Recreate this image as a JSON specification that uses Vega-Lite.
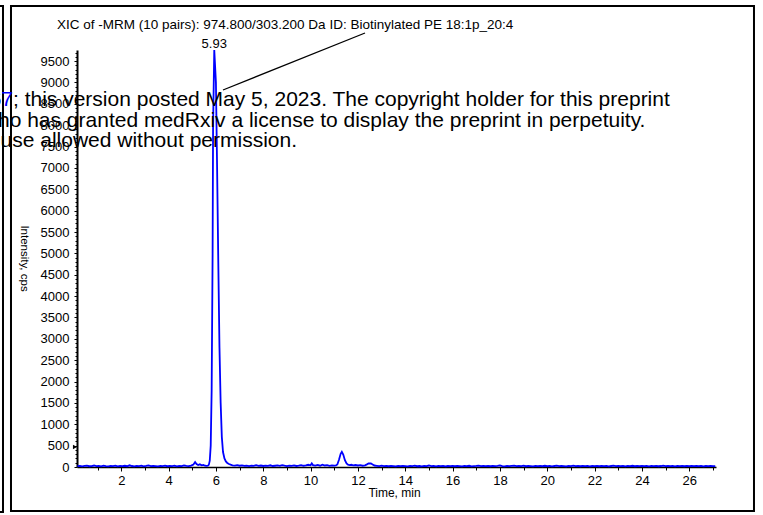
{
  "$schema": "https://vega.github.io/schema/vega-lite/v6.json",
  "width": 639,
  "height": 417,
  "autosize": {"type": "none"},
  "padding": {"left": 77, "top": 50, "right": 47, "bottom": 48},
  "background": "white",
  "config": {
    "view": {"stroke": null},
    "font": "Liberation Sans",
    "axis": {"labelFont": "Liberation Sans", "titleFont": "Liberation Sans", "labelColor": "black", "titleColor": "black", "domainColor": "black", "tickColor": "black", "grid": false}
  },
  "datasets": {
    "xic": [
      {"time":0.15,"intensity":20},{"time":0.25,"intensity":28},{"time":0.35,"intensity":15},{"time":0.45,"intensity":24},{"time":0.55,"intensity":30},{"time":0.65,"intensity":18},{"time":0.75,"intensity":22},{"time":0.85,"intensity":35},{"time":0.95,"intensity":19},{"time":1.05,"intensity":26},
      {"time":1.15,"intensity":14},{"time":1.25,"intensity":31},{"time":1.35,"intensity":22},{"time":1.45,"intensity":17},{"time":1.55,"intensity":27},{"time":1.65,"intensity":20},{"time":1.75,"intensity":33},{"time":1.85,"intensity":16},{"time":1.95,"intensity":25},{"time":2.05,"intensity":21},
      {"time":2.15,"intensity":29},{"time":2.25,"intensity":18},{"time":2.35,"intensity":40},{"time":2.45,"intensity":23},{"time":2.55,"intensity":17},{"time":2.65,"intensity":26},{"time":2.75,"intensity":21},{"time":2.85,"intensity":30},{"time":2.95,"intensity":15},{"time":3.05,"intensity":24},
      {"time":3.15,"intensity":36},{"time":3.25,"intensity":19},{"time":3.35,"intensity":27},{"time":3.45,"intensity":22},{"time":3.55,"intensity":16},{"time":3.65,"intensity":28},{"time":3.75,"intensity":20},{"time":3.85,"intensity":33},{"time":3.95,"intensity":18},{"time":4.05,"intensity":25},
      {"time":4.15,"intensity":22},{"time":4.25,"intensity":30},{"time":4.35,"intensity":17},{"time":4.45,"intensity":26},{"time":4.55,"intensity":21},{"time":4.65,"intensity":38},{"time":4.75,"intensity":24},{"time":4.85,"intensity":19},{"time":4.95,"intensity":32},{"time":5.05,"intensity":60},
      {"time":5.12,"intensity":115},{"time":5.18,"intensity":70},{"time":5.25,"intensity":45},{"time":5.32,"intensity":62},{"time":5.40,"intensity":38},{"time":5.47,"intensity":50},{"time":5.54,"intensity":30},{"time":5.60,"intensity":25},{"time":5.66,"intensity":30},{"time":5.70,"intensity":50},
      {"time":5.74,"intensity":150},{"time":5.78,"intensity":500},{"time":5.82,"intensity":1800},{"time":5.86,"intensity":5000},{"time":5.88,"intensity":8000},{"time":5.93,"intensity":9760},{"time":6.00,"intensity":9000},{"time":6.05,"intensity":7000},{"time":6.10,"intensity":4800},{"time":6.15,"intensity":2800},
      {"time":6.20,"intensity":1500},{"time":6.25,"intensity":700},{"time":6.30,"intensity":350},{"time":6.36,"intensity":200},{"time":6.42,"intensity":130},{"time":6.48,"intensity":95},{"time":6.55,"intensity":70},{"time":6.62,"intensity":55},{"time":6.70,"intensity":40},{"time":6.80,"intensity":32},
      {"time":6.90,"intensity":45},{"time":7.00,"intensity":30},{"time":7.10,"intensity":38},{"time":7.20,"intensity":25},{"time":7.30,"intensity":33},{"time":7.40,"intensity":22},{"time":7.50,"intensity":30},{"time":7.60,"intensity":26},{"time":7.70,"intensity":44},{"time":7.80,"intensity":28},
      {"time":7.90,"intensity":35},{"time":8.00,"intensity":24},{"time":8.10,"intensity":31},{"time":8.20,"intensity":27},{"time":8.30,"intensity":40},{"time":8.40,"intensity":23},{"time":8.50,"intensity":29},{"time":8.60,"intensity":36},{"time":8.70,"intensity":25},{"time":8.80,"intensity":42},
      {"time":8.90,"intensity":30},{"time":9.00,"intensity":21},{"time":9.10,"intensity":34},{"time":9.20,"intensity":27},{"time":9.30,"intensity":38},{"time":9.40,"intensity":24},{"time":9.50,"intensity":31},{"time":9.60,"intensity":45},{"time":9.70,"intensity":29},{"time":9.80,"intensity":36},
      {"time":9.90,"intensity":52},{"time":10.00,"intensity":40},{"time":10.05,"intensity":85},{"time":10.10,"intensity":45},{"time":10.20,"intensity":33},{"time":10.30,"intensity":48},{"time":10.40,"intensity":30},{"time":10.50,"intensity":55},{"time":10.60,"intensity":35},{"time":10.70,"intensity":42},
      {"time":10.80,"intensity":28},{"time":10.90,"intensity":36},{"time":11.00,"intensity":30},{"time":11.07,"intensity":35},{"time":11.13,"intensity":60},{"time":11.20,"intensity":170},{"time":11.27,"intensity":310},{"time":11.32,"intensity":355},{"time":11.38,"intensity":290},{"time":11.45,"intensity":160},
      {"time":11.52,"intensity":85},{"time":11.58,"intensity":55},{"time":11.65,"intensity":45},{"time":11.72,"intensity":52},{"time":11.80,"intensity":38},{"time":11.90,"intensity":46},{"time":12.00,"intensity":35},{"time":12.10,"intensity":42},{"time":12.20,"intensity":30},{"time":12.30,"intensity":38},
      {"time":12.38,"intensity":62},{"time":12.45,"intensity":85},{"time":12.55,"intensity":82},{"time":12.62,"intensity":60},{"time":12.70,"intensity":35},{"time":12.80,"intensity":28},{"time":12.90,"intensity":22},{"time":13.00,"intensity":30},{"time":13.10,"intensity":20},{"time":13.20,"intensity":25},
      {"time":13.30,"intensity":18},{"time":13.40,"intensity":27},{"time":13.50,"intensity":21},{"time":13.60,"intensity":16},{"time":13.70,"intensity":24},{"time":13.80,"intensity":19},{"time":13.90,"intensity":28},{"time":14.00,"intensity":22},{"time":14.10,"intensity":17},{"time":14.20,"intensity":26},
      {"time":14.30,"intensity":20},{"time":14.40,"intensity":30},{"time":14.50,"intensity":18},{"time":14.60,"intensity":23},{"time":14.70,"intensity":15},{"time":14.80,"intensity":27},{"time":14.90,"intensity":21},{"time":15.00,"intensity":35},{"time":15.10,"intensity":19},{"time":15.20,"intensity":24},
      {"time":15.30,"intensity":17},{"time":15.40,"intensity":26},{"time":15.50,"intensity":20},{"time":15.60,"intensity":28},{"time":15.70,"intensity":16},{"time":15.80,"intensity":23},{"time":15.90,"intensity":19},{"time":16.00,"intensity":25},{"time":16.10,"intensity":18},{"time":16.20,"intensity":27},
      {"time":16.30,"intensity":21},{"time":16.40,"intensity":16},{"time":16.50,"intensity":24},{"time":16.60,"intensity":20},{"time":16.70,"intensity":29},{"time":16.80,"intensity":17},{"time":16.90,"intensity":22},{"time":17.00,"intensity":26},{"time":17.10,"intensity":33},{"time":17.20,"intensity":19},
      {"time":17.30,"intensity":25},{"time":17.40,"intensity":21},{"time":17.50,"intensity":28},{"time":17.60,"intensity":18},{"time":17.70,"intensity":24},{"time":17.80,"intensity":20},{"time":17.90,"intensity":27},{"time":18.00,"intensity":38},{"time":18.10,"intensity":22},{"time":18.20,"intensity":17},
      {"time":18.30,"intensity":25},{"time":18.40,"intensity":20},{"time":18.50,"intensity":28},{"time":18.60,"intensity":34},{"time":18.70,"intensity":19},{"time":18.80,"intensity":24},{"time":18.90,"intensity":21},{"time":19.00,"intensity":30},{"time":19.10,"intensity":18},{"time":19.20,"intensity":26},
      {"time":19.30,"intensity":22},{"time":19.40,"intensity":17},{"time":19.50,"intensity":27},{"time":19.60,"intensity":20},{"time":19.70,"intensity":24},{"time":19.80,"intensity":18},{"time":19.90,"intensity":29},{"time":20.00,"intensity":21},{"time":20.10,"intensity":25},{"time":20.20,"intensity":17},
      {"time":20.30,"intensity":23},{"time":20.40,"intensity":30},{"time":20.50,"intensity":19},{"time":20.60,"intensity":26},{"time":20.70,"intensity":21},{"time":20.80,"intensity":16},{"time":20.90,"intensity":28},{"time":21.00,"intensity":22},{"time":21.10,"intensity":33},{"time":21.20,"intensity":19},
      {"time":21.30,"intensity":24},{"time":21.40,"intensity":18},{"time":21.50,"intensity":27},{"time":21.60,"intensity":21},{"time":21.70,"intensity":25},{"time":21.80,"intensity":17},{"time":21.90,"intensity":23},{"time":22.00,"intensity":20},{"time":22.10,"intensity":28},{"time":22.20,"intensity":18},
      {"time":22.30,"intensity":24},{"time":22.40,"intensity":21},{"time":22.50,"intensity":26},{"time":22.60,"intensity":17},{"time":22.70,"intensity":23},{"time":22.80,"intensity":30},{"time":22.90,"intensity":19},{"time":23.00,"intensity":25},{"time":23.10,"intensity":20},{"time":23.20,"intensity":27},
      {"time":23.30,"intensity":16},{"time":23.40,"intensity":24},{"time":23.50,"intensity":21},{"time":23.60,"intensity":29},{"time":23.70,"intensity":18},{"time":23.80,"intensity":23},{"time":23.90,"intensity":20},{"time":24.00,"intensity":26},{"time":24.10,"intensity":19},{"time":24.20,"intensity":24},
      {"time":24.30,"intensity":17},{"time":24.40,"intensity":28},{"time":24.50,"intensity":22},{"time":24.60,"intensity":25},{"time":24.70,"intensity":18},{"time":24.80,"intensity":23},{"time":24.90,"intensity":32},{"time":25.00,"intensity":21},{"time":25.10,"intensity":26},{"time":25.20,"intensity":19},
      {"time":25.30,"intensity":24},{"time":25.40,"intensity":17},{"time":25.50,"intensity":27},{"time":25.60,"intensity":20},{"time":25.70,"intensity":23},{"time":25.80,"intensity":18},{"time":25.90,"intensity":25},{"time":26.00,"intensity":21},{"time":26.10,"intensity":28},{"time":26.20,"intensity":19},
      {"time":26.30,"intensity":24},{"time":26.40,"intensity":20},{"time":26.50,"intensity":26},{"time":26.60,"intensity":17},{"time":26.70,"intensity":23},{"time":26.80,"intensity":21},{"time":26.90,"intensity":27},{"time":27.00,"intensity":19},{"time":27.10,"intensity":22}
    ]
  },
  "resolve": {"axis": {"x": "independent", "y": "independent"}},
  "layer": [
    {
      "data": {"values": [{}]},
      "mark": {"type": "rect", "fillOpacity": 0, "stroke": "black", "strokeWidth": 2, "clip": false},
      "encoding": {
        "x": {"datum": -2.659, "axis": null}, "x2": {"datum": 28.735},
        "y": {"datum": -1030, "axis": null}, "y2": {"datum": 10790}
      }
    },
    {
      "data": {"values": [{}]},
      "mark": {"type": "rect", "fillOpacity": 0, "stroke": "black", "strokeWidth": 2, "clip": false},
      "encoding": {
        "x": {"datum": -4.5, "axis": null}, "x2": {"datum": -2.997},
        "y": {"datum": -1053, "axis": null}, "y2": {"datum": 10790}
      }
    },
    {
      "data": {"name": "xic"},
      "mark": {"type": "line", "color": "#0000ff", "strokeWidth": 1.8},
      "encoding": {
        "x": {
          "field": "time", "type": "quantitative",
          "scale": {"domain": [0.13, 27.13], "nice": false, "zero": false},
          "axis": {"orient": "bottom", "values": [2,4,6,8,10,12,14,16,18,20,22,24,26], "format": "d", "tickSize": 4, "labelFontSize": 13, "labelPadding": 3, "labelFlush": false, "domainWidth": 1.5, "title": "Time, min", "titleFontSize": 12, "titleFontWeight": "normal", "titleX": 317, "titleY": 29, "titleAlign": "center", "titleBaseline": "alphabetic"}
        },
        "y": {
          "field": "intensity", "type": "quantitative",
          "scale": {"domain": [0, 9760], "nice": false, "zero": true},
          "axis": {"orient": "left", "values": [0,500,1000,1500,2000,2500,3000,3500,4000,4500,5000,5500,6000,6500,7000,7500,8000,8500,9000,9500], "format": "d", "tickSize": 3, "labelFontSize": 13, "labelPadding": 5, "labelFlush": false, "labelOverlap": false, "domainWidth": 2, "title": "Intensity, cps", "titleFontSize": 11.5, "titleFontWeight": "normal", "titleAngle": 90, "titleX": -54, "titleY": 208, "titleAlign": "center", "titleBaseline": "middle"}
        }
      }
    },
    {
      "data": {"values": [{}]},
      "mark": {"type": "rule", "color": "black", "strokeWidth": 1.3},
      "encoding": {
        "x": {"datum": 6.3, "axis": {"orient": "bottom", "values": [1,3,5,7,9,11,13,15,17,19,21,23,25,27], "labels": false, "domain": false, "tickSize": 3, "title": null}},
        "x2": {"datum": 12.3},
        "y": {"datum": 8824, "axis": {"orient": "left", "values": [100,200,300,400,600,700,800,900,1100,1200,1300,1400,1600,1700,1800,1900,2100,2200,2300,2400,2600,2700,2800,2900,3100,3200,3300,3400,3600,3700,3800,3900,4100,4200,4300,4400,4600,4700,4800,4900,5100,5200,5300,5400,5600,5700,5800,5900,6100,6200,6300,6400,6600,6700,6800,6900,7100,7200,7300,7400,7600,7700,7800,7900,8100,8200,8300,8400,8600,8700,8800,8900,9100,9200,9300,9400,9600,9700], "labels": false, "domain": false, "tickSize": 2, "title": null}},
        "y2": {"datum": 10158}
      }
    },
    {
      "data": {"values": [{}]},
      "mark": {"type": "point", "shape": "triangle-right", "size": 22, "filled": true, "color": "black", "opacity": 1},
      "encoding": {"x": {"datum": 0.045, "axis": null}, "y": {"datum": 468, "axis": null}}
    },
    {
      "data": {"values": [{}]},
      "mark": {"type": "text", "text": "XIC of -MRM (10 pairs): 974.800/303.200 Da ID: Biotinylated PE 18:1p_20:4", "align": "left", "baseline": "alphabetic", "fontSize": 13.5, "font": "Liberation Sans", "color": "black"},
      "encoding": {"x": {"datum": -0.715, "axis": null}, "y": {"datum": 10251, "axis": null}}
    },
    {
      "data": {"values": [{}]},
      "mark": {"type": "text", "text": "5.93", "align": "center", "baseline": "alphabetic", "fontSize": 13, "font": "Liberation Sans", "color": "black"},
      "encoding": {"x": {"datum": 5.93, "axis": null}, "y": {"datum": 9807, "axis": null}}
    },
    {
      "data": {"values": [{}]},
      "mark": {"type": "text", "text": "23289467", "align": "right", "baseline": "alphabetic", "fontSize": 21, "font": "Liberation Sans", "color": "#0000ff"},
      "encoding": {"x": {"datum": -2.574, "axis": null}, "y": {"datum": 8449, "axis": null}}
    },
    {
      "data": {"values": [{}]},
      "mark": {"type": "text", "text": "; this version posted May 5, 2023. The copyright holder for this preprint", "align": "left", "baseline": "alphabetic", "fontSize": 21, "font": "Liberation Sans", "color": "black"},
      "encoding": {"x": {"datum": -2.574, "axis": null}, "y": {"datum": 8449, "axis": null}}
    },
    {
      "data": {"values": [{}]},
      "mark": {"type": "text", "text": "who has granted medRxiv a license to display the preprint in perpetuity.", "align": "left", "baseline": "alphabetic", "fontSize": 21, "font": "Liberation Sans", "color": "black"},
      "encoding": {"x": {"datum": -3.85, "axis": null}, "y": {"datum": 7958, "axis": null}}
    },
    {
      "data": {"values": [{}]},
      "mark": {"type": "text", "text": "reuse allowed without permission.", "align": "left", "baseline": "alphabetic", "fontSize": 21, "font": "Liberation Sans", "color": "black"},
      "encoding": {"x": {"datum": -3.89, "axis": null}, "y": {"datum": 7478, "axis": null}}
    }
  ]
}
